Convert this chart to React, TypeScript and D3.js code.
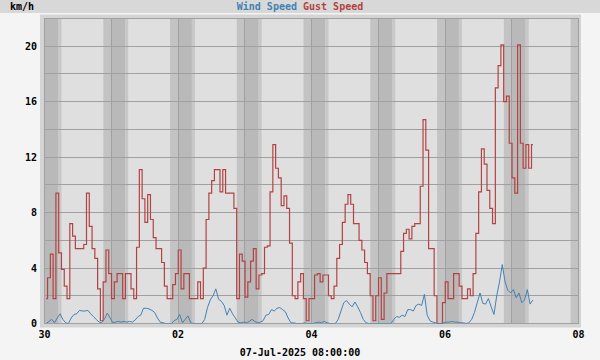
import React from "react";
import * as d3 from "d3";

const gustSpeed = [
  1.8, 3.3, 5.0, 1.8, 9.4, 5.1, 3.9, 2.7, 1.8, 7.2,
  6.3, 5.4, 5.4, 5.4, 5.7, 9.4, 7.0, 5.4, 4.7, 2.5,
  0.2, 3.0, 5.3, 3.6, 1.8, 3.0, 3.6, 3.6, 1.8, 3.6,
  3.6, 2.5, 1.8, 5.5, 11.1, 9.0, 7.3, 9.3, 7.5, 6.2,
  5.4, 5.4, 4.4, 2.7, 1.8, 1.8, 2.8, 3.6, 5.3, 2.5,
  3.6, 3.6, 1.8, 1.8, 1.8, 3.0, 1.8, 4.0, 7.5, 9.4,
  10.3, 11.1, 11.1, 9.5, 11.1, 9.4, 9.4, 9.4, 8.3, 1.8,
  5.0, 4.5, 1.9, 3.0, 4.5, 5.4, 2.5, 3.5, 3.6, 5.5,
  5.6, 9.5, 12.9, 11.2, 10.5, 8.5, 9.2, 8.3, 5.8, 2.0,
  1.8, 3.0, 3.6, 1.8, 0.2, 1.8, 1.8, 3.5, 3.6, 3.0,
  3.5, 3.5, 2.0, 1.8, 2.7, 4.7, 5.7, 7.3, 8.6, 9.3,
  8.6, 7.2, 7.2, 6.0, 5.3, 4.4, 3.6, 2.0, 0.2, 2.0,
  3.3, 0.3, 2.2, 3.6, 3.6, 3.6, 3.6, 3.6, 5.2, 6.5,
  6.8, 6.1, 7.0, 7.2, 7.2, 9.9, 14.7, 12.5, 5.4, 5.4,
  2.0, 0.0, 0.0, 1.5, 3.0, 1.8, 1.8, 3.6, 3.6, 2.7,
  1.8, 1.8, 2.5, 2.0, 3.6, 6.5, 9.5, 12.6, 11.5, 9.6,
  8.3, 7.2, 17.0, 18.6, 20.1, 16.0, 16.4, 13.0, 10.5, 9.4,
  20.1, 13.0, 11.2, 12.9, 11.2, 12.9,
];

const windSpeed = [
  0.0, 0.15, 0.3, 0.05, 0.4, 0.7, 0.3, 0.05, 0.0, 0.4,
  0.65, 0.7, 0.95, 0.9, 0.9, 0.95, 0.7, 0.5, 0.3, 0.1,
  0.05, 0.35, 0.75, 0.4, 0.05, 0.1, 0.15, 0.1, 0.15, 0.1,
  0.15, 0.1, 0.25, 0.5, 0.6, 1.1, 1.1, 1.05, 0.95, 0.8,
  0.4, 0.1, 0.05, 0.0, 0.0, 0.0, 0.2, 0.3, 0.65, 0.05,
  0.3, 0.55, 0.05, 0.0, 0.0, 0.0, 0.0, 0.3, 1.15, 1.7,
  2.0, 2.5, 1.75, 1.6, 1.3, 0.6, 1.1, 0.7, 0.4, 0.1,
  0.05, 0.1, 0.05, 0.15, 0.3, 0.15, 0.05, 0.1, 0.2, 0.6,
  0.65, 1.0, 0.9, 1.1, 1.15, 1.0, 0.85, 0.4, 0.05, 0.05,
  0.0, 0.0, 0.0, 0.05, 0.0, 0.0, 0.0, 0.05, 0.1, 0.05,
  0.15, 0.05, 0.0, 0.0, 0.0, 0.3, 0.9, 1.5, 1.65, 1.4,
  1.2, 1.55, 1.2, 0.8, 0.3, 0.05, 0.0, 0.0, 0.0, 0.0,
  0.0, 0.0, 0.0, 0.0, 0.0, 0.3, 0.5, 0.45, 0.6, 0.5,
  1.0, 1.0, 0.9, 1.3, 1.4, 1.3, 2.1, 0.6, 0.2, 0.1,
  0.05, 0.0, 0.0, 0.05, 0.1, 0.1, 0.15, 0.1, 0.1, 0.05,
  0.05, 0.0, 0.05, 0.3, 0.8, 1.5, 2.2, 1.45, 1.4, 1.8,
  1.2, 0.65, 2.0, 3.0, 4.25, 3.0, 2.4, 2.2, 2.45, 1.85,
  2.2, 1.5, 1.7, 2.45, 1.4, 1.7,
];

const yTickValues = [0, 4, 8, 12, 16, 20];
const xTickLabels = ["30", "02", "04", "06", "08"];
const seriesNames = ["Wind Speed", "Gust Speed"];
const seriesColors = ["#4282b4", "#b44242"];
const unitLabel = "km/h";
const dateLabel = "07-Jul-2025 08:00:00";

const HOUR = 3600e3;
const DAY = 24 * HOUR;
const START = Date.UTC(2025, 5, 30);
const END = Date.UTC(2025, 6, 8);

export default function App() {
  const W = 600;
  const H = 360;
  const left = 44.5, right = 578.5, top = 18.5, bottom = 323.5;
  const x = d3.scaleUtc().domain([START, END]).range([left, right]);
  const y = d3.scaleLinear().domain([0, 22]).range([bottom, top]);

  const times = gustSpeed.map((_, i) => START + (i + 0.6) * HOUR);
  const stepLine = d3
    .line<number>()
    .x((_, i) => x(times[i]))
    .y((d) => y(d))
    .curve(d3.curveStep);
  const smoothLine = d3
    .line<number>()
    .x((_, i) => x(times[i]))
    .y((d) => y(d));

  const days = d3.utcDay.range(START, END + 1);
  const bands: { x0: number; x1: number; fill: string }[] = [];
  for (let d = -1; d < 8; d++) {
    const s = START + d * DAY;
    bands.push({ x0: x(s + 21.15 * HOUR), x1: x(s + 24 * HOUR), fill: "#c3c3c3" });
    bands.push({ x0: x(s + 24 * HOUR), x1: x(s + 29 * HOUR), fill: "#b9b9b9" });
    bands.push({ x0: x(s + 29 * HOUR), x1: x(s + 30.1 * HOUR), fill: "#c8c8c8" });
  }
  const gridY = d3.range(0, 23, 2);
  const font = "'DejaVu Sans Mono', monospace";

  return (
    <svg
      width={W}
      height={H}
      style={{ position: "absolute", left: 0, top: 0, background: "#f4f4f4" }}
      fontFamily={font}
      fontWeight="bold"
      fontSize={10}
    >
      <defs>
        <clipPath id="plotclip">
          <rect x={left} y={top} width={right - left} height={bottom - top} />
        </clipPath>
      </defs>
      <rect x={0} y={0} width={W} height={H} fill="#f4f4f4" />
      <rect x={0} y={0} width={W} height={13} fill="#d8d8d8" />
      <text x={10} y={10} fill="#000">{unitLabel}</text>
      <text x={300} y={10} textAnchor="middle">
        <tspan fill={seriesColors[0]}>{seriesNames[0]}</tspan>
        <tspan fill={seriesColors[1]}> {seriesNames[1]}</tspan>
      </text>
      <rect x={40} y={14.5} width={541} height={313} fill="#d4d4d4" />
      <rect x={left} y={top} width={right - left} height={bottom - top} fill="#dfdfdf" />
      <g clipPath="url(#plotclip)">
        {bands.map((b, i) => (
          <rect key={i} x={b.x0} y={top} width={Math.max(0, b.x1 - b.x0)} height={bottom - top} fill={b.fill} />
        ))}
      </g>
      {gridY.map((v) => (
        <line key={v} x1={left} x2={right} y1={Math.round(y(v) - 0.5) + 0.5} y2={Math.round(y(v) - 0.5) + 0.5} stroke="#a0a0a0" />
      ))}
      {days.map((d) => {
        const xx = Math.round(x(d) - 0.5) + 0.5;
        return <line key={+d} x1={xx} x2={xx} y1={top} y2={bottom} stroke="#a0a0a0" />;
      })}
      <rect x={left} y={top} width={right - left} height={bottom - top} fill="none" stroke="#a0a0a0" />
      <g clipPath="url(#plotclip)">
        <path d={stepLine(gustSpeed) || ""} fill="none" stroke={seriesColors[1]} strokeWidth={1.2} />
        <path d={smoothLine(windSpeed) || ""} fill="none" stroke={seriesColors[0]} strokeWidth={1} />
      </g>
      {yTickValues.map((v) => (
        <text key={v} x={37} y={y(v) + 3.5} textAnchor="end" fill="#000">{v}</text>
      ))}
      {xTickLabels.map((lab, i) => (
        <text key={lab} x={x(START + i * 2 * DAY)} y={338} textAnchor="middle" fill="#000">{lab}</text>
      ))}
      <text x={300} y={356} textAnchor="middle" fill="#000">{dateLabel}</text>
    </svg>
  );
}
